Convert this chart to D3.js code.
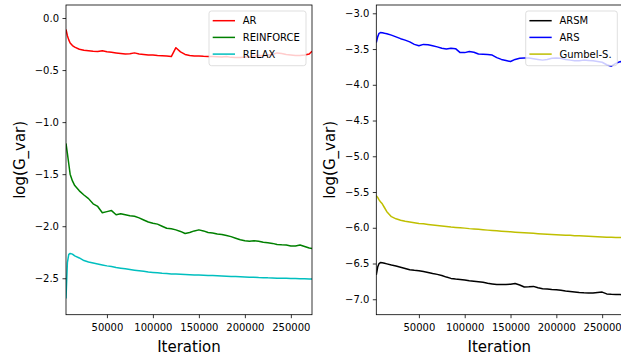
<!DOCTYPE html>
<html lang="en">
<head>
<meta charset="UTF-8">
<title>log(G_var) vs Iteration</title>
<script src="https://d3js.org/d3.v7.min.js"></script>
<style>
    body {margin: 0; background: white;}
    svg {display: block; overflow: hidden;}
    text {font-family: "DejaVu Sans", sans-serif;}
</style>
</head>
<body>
<div id="chart"></div>
<script>

// ---- data ----

// iterations for the left panel
var iterLeft = [5500, 7000, 8500, 10000, 12500, 15000, 20000, 25000,
    30000, 35000, 40000, 45000, 50000, 55000, 60000, 65000, 70000, 75000,
    80000, 85000, 90000, 95000, 100000, 105000, 110000, 115000, 120000, 125000,
    130000, 135000, 140000, 145000, 150000, 155000, 160000, 165000, 170000, 175000,
    180000, 185000, 190000, 195000, 200000, 205000, 210000, 215000, 220000, 225000,
    230000, 235000, 240000, 245000, 250000, 255000, 260000, 265000, 270000, 273000];

var arValues = [-0.11, -0.17, -0.21, -0.24, -0.265, -0.28, -0.30, -0.31,
    -0.315, -0.32, -0.322, -0.315, -0.325, -0.33, -0.335, -0.34, -0.345, -0.343,
    -0.335, -0.345, -0.35, -0.355, -0.355, -0.36, -0.362, -0.365, -0.37, -0.285,
    -0.325, -0.35, -0.36, -0.365, -0.365, -0.368, -0.37, -0.37, -0.372, -0.375,
    -0.37, -0.378, -0.38, -0.38, -0.375, -0.372, -0.365, -0.36, -0.362, -0.355,
    -0.35, -0.335, -0.34, -0.35, -0.355, -0.36, -0.36, -0.355, -0.345, -0.32];

var reinforceValues = [-1.205, -1.30, -1.40, -1.50, -1.565, -1.61, -1.66, -1.70,
    -1.735, -1.785, -1.81, -1.87, -1.86, -1.85, -1.89, -1.88, -1.89, -1.90,
    -1.905, -1.92, -1.94, -1.96, -1.972, -1.98, -2.0, -2.02, -2.025, -2.035,
    -2.05, -2.07, -2.06, -2.045, -2.035, -2.045, -2.06, -2.065, -2.075, -2.08,
    -2.09, -2.10, -2.115, -2.13, -2.14, -2.145, -2.14, -2.145, -2.155, -2.16,
    -2.165, -2.175, -2.178, -2.18, -2.19, -2.19, -2.18, -2.195, -2.21, -2.215];

var relaxValues = [-2.695, -2.35, -2.27, -2.262, -2.268, -2.285, -2.305, -2.33,
    -2.343, -2.353, -2.362, -2.372, -2.381, -2.388, -2.397, -2.403, -2.409, -2.416,
    -2.422, -2.428, -2.433, -2.44, -2.444, -2.448, -2.452, -2.455, -2.458, -2.46,
    -2.462, -2.464, -2.466, -2.468, -2.469, -2.471, -2.473, -2.474, -2.476, -2.478,
    -2.48, -2.482, -2.484, -2.486, -2.488, -2.49, -2.491, -2.493, -2.494, -2.496,
    -2.497, -2.499, -2.5, -2.501, -2.502, -2.503, -2.504, -2.505, -2.506, -2.507];

// iterations for the right panel
var iterRight = [3500, 5000, 6500, 8000, 10000, 12500, 15000, 20000, 25000,
    30000, 35000, 40000, 45000, 50000, 55000, 60000, 65000, 70000, 75000,
    80000, 85000, 90000, 95000, 100000, 105000, 110000, 115000, 120000, 125000,
    130000, 135000, 140000, 145000, 150000, 155000, 160000, 165000, 170000, 175000,
    180000, 185000, 190000, 195000, 200000, 205000, 210000, 215000, 220000, 225000,
    230000, 235000, 240000, 245000, 250000, 255000, 260000, 265000, 270000, 272000];

var arsmValues = [-6.66, -6.55, -6.50, -6.487, -6.49, -6.497, -6.505, -6.522, -6.535,
    -6.552, -6.57, -6.588, -6.595, -6.60, -6.612, -6.625, -6.64, -6.652, -6.668,
    -6.69, -6.708, -6.716, -6.722, -6.73, -6.74, -6.748, -6.755, -6.762, -6.775,
    -6.785, -6.795, -6.795, -6.792, -6.79, -6.78, -6.80, -6.828, -6.825, -6.82,
    -6.84, -6.852, -6.855, -6.862, -6.866, -6.875, -6.885, -6.892, -6.898, -6.905,
    -6.91, -6.912, -6.913, -6.905, -6.90, -6.925, -6.93, -6.933, -6.935, -6.937];

var arsValues = [-3.41, -3.33, -3.28, -3.27, -3.272, -3.28, -3.285, -3.305, -3.33,
    -3.355, -3.375, -3.40, -3.435, -3.455, -3.435, -3.44, -3.455, -3.47, -3.49,
    -3.50, -3.49, -3.495, -3.55, -3.55, -3.535, -3.545, -3.57, -3.572, -3.575,
    -3.585, -3.62, -3.645, -3.66, -3.675, -3.645, -3.63, -3.625, -3.625, -3.635,
    -3.645, -3.655, -3.645, -3.63, -3.625, -3.63, -3.645, -3.655, -3.665, -3.665,
    -3.655, -3.66, -3.665, -3.675, -3.685, -3.72, -3.74, -3.70, -3.675, -3.69];

var gumbelValues = [-5.55, -5.575, -5.61, -5.635, -5.665, -5.72, -5.775, -5.845, -5.875,
    -5.895, -5.91, -5.92, -5.93, -5.94, -5.945, -5.953, -5.96, -5.968, -5.975,
    -5.982, -5.99, -5.995, -5.999, -6.005, -6.012, -6.017, -6.022, -6.028, -6.033,
    -6.038, -6.043, -6.048, -6.052, -6.057, -6.062, -6.066, -6.07, -6.074, -6.078,
    -6.082, -6.086, -6.089, -6.093, -6.097, -6.1, -6.103, -6.106, -6.11, -6.113,
    -6.116, -6.119, -6.122, -6.125, -6.128, -6.131, -6.133, -6.135, -6.137, -6.138];

// tick labels
var xTicks = [50000, 100000, 150000, 200000, 250000];
var leftYTicks = [0, -0.5, -1.0, -1.5, -2.0, -2.5];
var rightYTicks = [-3.0, -3.5, -4.0, -4.5, -5.0, -5.5, -6.0, -6.5, -7.0];

var leftNames = ["AR", "REINFORCE", "RELAX"];
var rightNames = ["ARSM", "ARS", "Gumbel-S."];
var xLabel = "Iteration";
var yLabel = "log(G_var)";

// ---- drawing ----

var width = 621;
var height = 360;
var plotTop = 5;
var plotBottom = 314.7;

var svg = d3.select("#chart").append("svg")
    .attr("width", width)
    .attr("height", height);

// panel settings built from the arrays above
var panels = [
    {
        id: "L", left: 66, right: 312,
        xDomain: [iterLeft[0], iterLeft[iterLeft.length - 1]],
        yDomain: [-2.85, 0.125],
        yTicks: leftYTicks,
        iters: iterLeft,
        series: [
            {name: leftNames[0], values: arValues, color: "#ff0000"},
            {name: leftNames[1], values: reinforceValues, color: "#008000"},
            {name: leftNames[2], values: relaxValues, color: "#00bfbf"}
        ],
        labelX: 25.3,
        legend: {x: 209, y: 11, w: 97, h: 54.7}
    },
    {
        id: "R", left: 376.3, right: 622.3,
        xDomain: [iterRight[0], iterRight[iterRight.length - 1]],
        yDomain: [-7.216, -2.884],
        yTicks: rightYTicks,
        iters: iterRight,
        series: [
            {name: rightNames[0], values: arsmValues, color: "#000000"},
            {name: rightNames[1], values: arsValues, color: "#0000ff"},
            {name: rightNames[2], values: gumbelValues, color: "#bfbf00"}
        ],
        labelX: 335.3,
        legend: {x: 525.7, y: 11, w: 91.6, h: 54.7}
    }
];

// minus sign like matplotlib
function fmtY(v) {
    return (v < 0 ? "\u2212" : "") + Math.abs(v).toFixed(1);
}

panels.forEach(function(p) {
    var xScale = d3.scaleLinear().domain(p.xDomain).range([p.left, p.right]);
    var yScale = d3.scaleLinear().domain(p.yDomain).range([plotBottom, plotTop]);

    // clip to the axes box
    svg.append("clipPath").attr("id", "clip" + p.id)
        .append("rect")
        .attr("x", p.left).attr("y", plotTop)
        .attr("width", p.right - p.left).attr("height", plotBottom - plotTop);

    var line = d3.line()
        .x(function(d) { return xScale(d[0]); })
        .y(function(d) { return yScale(d[1]); });

    var g = svg.append("g").attr("clip-path", "url(#clip" + p.id + ")");
    p.series.forEach(function(s) {
        var pts = p.iters.map(function(it, i) { return [it, s.values[i]]; });
        g.append("path")
            .datum(pts)
            .attr("d", line)
            .attr("fill", "none")
            .attr("stroke", s.color)
            .attr("stroke-width", 1.5)
            .attr("stroke-linejoin", "round");
    });

    // x axis
    var xAxis = d3.axisBottom(xScale)
        .tickValues(xTicks)
        .tickFormat(d3.format("d"))
        .tickSize(3.5)
        .tickSizeOuter(0)
        .tickPadding(6);
    var gx = svg.append("g")
        .attr("transform", "translate(0," + plotBottom + ")")
        .call(xAxis);

    // y axis
    var yAxis = d3.axisLeft(yScale)
        .tickValues(p.yTicks)
        .tickFormat(fmtY)
        .tickSize(3.5)
        .tickSizeOuter(0)
        .tickPadding(3.5);
    var gy = svg.append("g")
        .attr("transform", "translate(" + p.left + ",0)")
        .call(yAxis);

    [gx, gy].forEach(function(a) {
        a.select(".domain").remove();
        a.selectAll("line").attr("stroke", "#000").attr("stroke-width", 0.8);
        a.selectAll("text")
            .attr("fill", "#000")
            .style("font-size", "10px")
            .style("font-family", "DejaVu Sans");
    });

    // frame
    svg.append("rect")
        .attr("x", p.left).attr("y", plotTop)
        .attr("width", p.right - p.left).attr("height", plotBottom - plotTop)
        .attr("fill", "none")
        .attr("stroke", "#000")
        .attr("stroke-width", 0.8);

    // axis labels
    svg.append("text")
        .attr("x", (p.left + p.right) / 2)
        .attr("y", 352)
        .attr("text-anchor", "middle")
        .style("font-size", "15px")
        .text(xLabel);

    svg.append("text")
        .attr("transform", "translate(" + p.labelX + "," + ((plotTop + plotBottom) / 2) + ") rotate(-90)")
        .attr("text-anchor", "middle")
        .style("font-size", "15px")
        .text(yLabel);

    // legend
    var lg = svg.append("g").attr("transform", "translate(" + p.legend.x + "," + p.legend.y + ")");
    lg.append("rect")
        .attr("width", p.legend.w).attr("height", p.legend.h)
        .attr("rx", 2.5)
        .attr("fill", "white").attr("fill-opacity", 0.8)
        .attr("stroke", "#cccccc").attr("stroke-opacity", 0.8)
        .attr("stroke-width", 0.8);
    p.series.forEach(function(s, i) {
        var yy = 9.7 + i * 16.7;
        lg.append("line")
            .attr("x1", 3.7).attr("x2", 26)
            .attr("y1", yy).attr("y2", yy)
            .attr("stroke", s.color)
            .attr("stroke-width", 1.5);
        lg.append("text")
            .attr("x", 33.7)
            .attr("y", yy)
            .attr("dy", "0.36em")
            .style("font-size", "10px")
            .text(s.name);
    });
});

</script>
</body>
</html>
